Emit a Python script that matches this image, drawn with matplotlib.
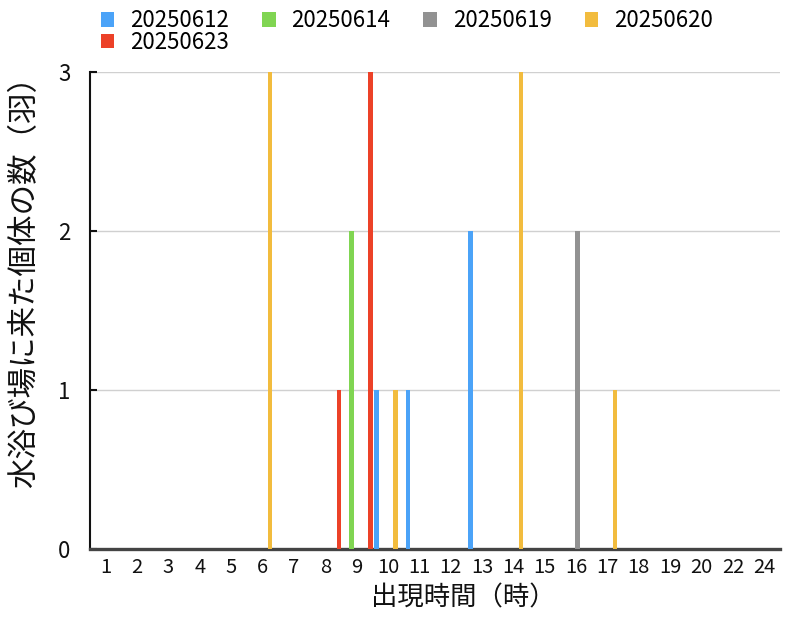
import matplotlib
matplotlib.use("Agg")
import matplotlib.pyplot as plt
import numpy as np
from matplotlib.patches import Patch

plt.rcParams['font.family'] = ['Noto Sans CJK JP', 'DejaVu Sans']

hours = ["1", "2", "3", "4", "5", "6", "7", "8", "9", "10", "11", "12",
         "13", "14", "15", "16", "17", "18", "19", "20", "22", "24"]
series_names = ["20250612", "20250614", "20250619", "20250620", "20250623"]
v_0612 = [0, 0, 0, 0, 0, 0, 0, 0, 0, 1, 1, 0, 2, 0, 0, 0, 0, 0, 0, 0, 0, 0]
v_0614 = [0, 0, 0, 0, 0, 0, 0, 0, 2, 0, 0, 0, 0, 0, 0, 0, 0, 0, 0, 0, 0, 0]
v_0619 = [0, 0, 0, 0, 0, 0, 0, 0, 0, 0, 0, 0, 0, 0, 0, 2, 0, 0, 0, 0, 0, 0]
v_0620 = [0, 0, 0, 0, 0, 3, 0, 0, 0, 1, 0, 0, 0, 3, 0, 0, 1, 0, 0, 0, 0, 0]
v_0623 = [0, 0, 0, 0, 0, 0, 0, 1, 3, 0, 0, 0, 0, 0, 0, 0, 0, 0, 0, 0, 0, 0]
series_values = [v_0612, v_0614, v_0619, v_0620, v_0623]
colors = ["#4BA3F8", "#80D552", "#929292", "#F2BC3E", "#EC4128"]

fig = plt.figure(figsize=(8, 6.19), dpi=100)
ax = fig.add_axes([0.1125, 0.1131, 0.8625, 0.7706])

x = np.arange(len(hours))
slot = 0.2
shift = 0.04
bw = 0.15
for k, (vals, c) in enumerate(zip(series_values, colors)):
    ax.bar(x + shift + (k - 2) * slot, vals, width=bw, color=c, zorder=3)

ax.set_xlim(-0.5, len(hours) - 0.5)
ax.set_ylim(0, 3)
ax.set_yticks([0, 1, 2, 3])
ax.set_xticks(x)
ax.set_xticklabels(hours)
ax.yaxis.grid(True, color="#d0d0d0", linewidth=1.0, zorder=0)
ax.set_axisbelow(True)

for s in ["top", "right"]:
    ax.spines[s].set_visible(False)
ax.spines["left"].set_linewidth(1.5)
ax.spines["left"].set_color("#111111")
ax.spines["bottom"].set_linewidth(2.4)
ax.spines["bottom"].set_color("#444444")

ax.tick_params(axis="y", direction="in", length=5, width=1.5, pad=14,
               labelsize=16, colors="#111111")
ax.tick_params(axis="x", length=0, pad=6, labelsize=14.5, colors="#111111")

ax.set_xlabel("出現時間（時）", fontsize=19, color="#111111")
ax.set_ylabel("水浴び場に来た個体の数（羽）", fontsize=22, color="#111111")
ax.xaxis.set_label_coords(0.541, -0.074)
ax.yaxis.set_label_coords(-0.072, 0.575)

order = [0, 4, 1, 2, 3]
handles = [Patch(facecolor=colors[i], edgecolor="none") for i in order]
labels = [series_names[i] for i in order]
fig.legend(handles, labels, ncol=4, loc="upper left",
           bbox_to_anchor=(0.107, 1.01), frameon=False, fontsize=16,
           handlelength=0.6, handleheight=0.6, handletextpad=0.72,
           columnspacing=1.48, labelspacing=-0.06, borderpad=0.2)

fig.savefig("out.png", dpi=100)
